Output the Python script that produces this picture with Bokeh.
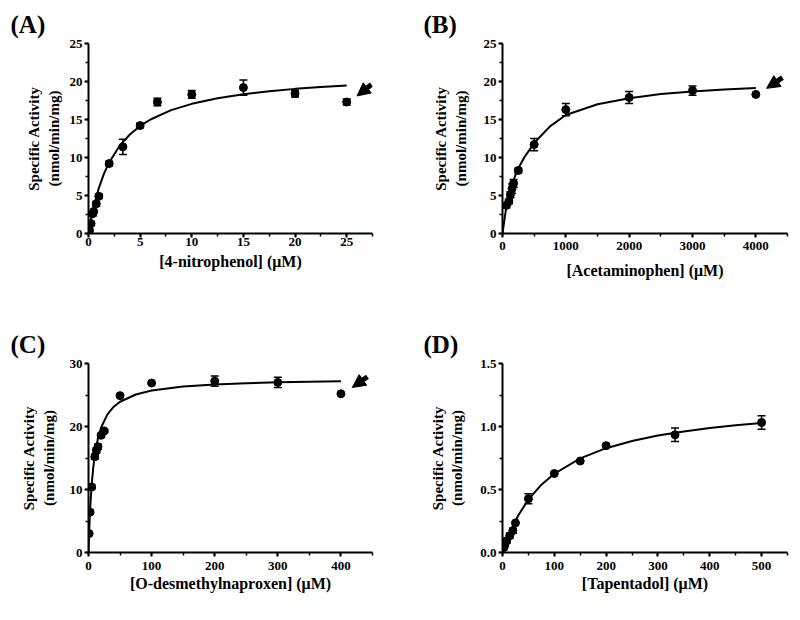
from bokeh.plotting import figure
from bokeh.layouts import column, row
from bokeh.models import (Range1d, FixedTicker, Whisker, TeeHead, ColumnDataSource,
                          Arrow, NormalHead, CustomJSTickFormatter)
from bokeh.embed import file_html
from bokeh.resources import INLINE

FONT = "Liberation Serif"
Y_TITLE = "Specific Activity\n(nmol/min/mg)"

# ---------------- Panel A: 4-nitrophenol ----------------
a_x = [0.1, 0.25, 0.4, 0.5, 0.75, 1.0, 2.0, 3.33, 5.0, 6.67, 10.0, 15.0, 20.0, 25.0]
a_y = [0.4, 1.3, 2.6, 2.9, 3.9, 4.9, 9.2, 11.4, 14.2, 17.3, 18.3, 19.2, 18.4, 17.3]
a_err = [0.0, 0.2, 0.3, 0.0, 0.3, 0.3, 0.3, 1.0, 0.3, 0.5, 0.5, 1.0, 0.45, 0.4]
a_fit_x = [0, 0.25, 0.5, 1, 1.5, 2, 3, 4, 5, 6, 8, 10, 12.5, 15, 17.5, 20, 22.5, 25]
a_fit_y = [0, 1.89, 3.47, 5.97, 7.87, 9.35, 11.52, 13.03, 14.15, 15.0, 16.23, 17.06,
           17.80, 18.32, 18.72, 19.03, 19.27, 19.48]
a_xticks = [0, 5, 10, 15, 20, 25]
a_yticks = [0, 5, 10, 15, 20, 25]

# ---------------- Panel B: Acetaminophen ----------------
b_x = [62.5, 100, 125, 150, 175, 250, 500, 1000, 2000, 3000, 4000]
b_y = [3.7, 4.2, 5.1, 5.9, 6.6, 8.3, 11.7, 16.3, 17.9, 18.8, 18.3]
b_err = [0.3, 0.3, 0.4, 0.6, 0.5, 0.3, 0.8, 0.8, 0.8, 0.6, 0.0]
b_fit_x = [0, 25, 50, 100, 150, 200, 250, 350, 500, 750, 1000, 1500, 2000, 2500, 3000, 3500, 4000]
b_fit_y = [0, 1.5, 2.9, 5.0, 6.5, 7.6, 8.6, 10.1, 11.9, 14.1, 15.6, 17.0, 17.8, 18.35,
           18.7, 18.95, 19.15]
b_xticks = [0, 1000, 2000, 3000, 4000]
b_yticks = [0, 5, 10, 15, 20, 25]

# ---------------- Panel C: O-desmethylnaproxen ----------------
c_x = [1, 2.5, 5, 10, 12.5, 15, 20, 25, 50, 100, 200, 300, 400]
c_y = [3.0, 6.4, 10.4, 15.2, 16.2, 16.8, 18.6, 19.3, 24.9, 26.9, 27.2, 27.0, 25.2]
c_err = [0.0, 0.3, 0.3, 0.4, 0.4, 0.4, 0.3, 0.3, 0.0, 0.0, 0.8, 0.8, 0.0]
c_fit_x = [0, 1, 2, 3, 5, 7.5, 10, 15, 20, 30, 40, 50, 75, 100, 150, 200, 250, 300, 350, 400]
c_fit_y = [0, 3.10, 5.58, 7.60, 10.71, 13.47, 15.45, 18.13, 19.85, 21.93, 23.14, 23.93,
           25.08, 25.70, 26.34, 26.68, 26.88, 27.02, 27.12, 27.20]
c_xticks = [0, 100, 200, 300, 400]
c_yticks = [0, 10, 20, 30]

# ---------------- Panel D: Tapentadol ----------------
d_x = [3, 5, 8, 14, 20, 25, 50, 100, 150, 200, 333, 500]
d_y = [0.04, 0.07, 0.093, 0.133, 0.173, 0.235, 0.427, 0.627, 0.726, 0.848, 0.934, 1.032]
d_err = [0.0, 0.02, 0.02, 0.02, 0.02, 0.0, 0.04, 0.0, 0.0, 0.0, 0.054, 0.053]
d_fit_x = [0, 5, 10, 20, 30, 50, 75, 100, 150, 200, 250, 300, 350, 400, 450, 500]
d_fit_y = [0, 0.061, 0.116, 0.211, 0.292, 0.420, 0.538, 0.625, 0.747, 0.828, 0.885,
           0.928, 0.961, 0.988, 1.009, 1.027]
d_xticks = [0, 100, 200, 300, 400, 500]
d_yticks = [0, 0.5, 1.0, 1.5]


def minor_of(ticks, step):
    out = []
    t = 0.0
    end = ticks[-1] + step * 2
    while t <= end + 1e-9:
        out.append(round(t, 6))
        t += step
    return out


def panel(cfg):
    p = figure(width=cfg["w"], height=cfg["h"],
               x_range=Range1d(0, cfg["xmax"]), y_range=Range1d(0, cfg["ymax"]),
               output_backend="svg", toolbar_location=None,
               min_border_left=cfg["bl"], min_border_right=cfg["br"],
               min_border_top=cfg["bt"], min_border_bottom=cfg["bb"])
    p.outline_line_color = None
    p.grid.visible = False
    p.background_fill_color = "white"
    p.border_fill_color = "white"

    p.xaxis.ticker = FixedTicker(ticks=cfg["xt"], minor_ticks=minor_of(cfg["xt"], cfg["xminor"]))
    p.yaxis.ticker = FixedTicker(ticks=cfg["yt"], minor_ticks=minor_of(cfg["yt"], cfg["yminor"]))
    if cfg.get("yfmt"):
        p.yaxis.formatter = CustomJSTickFormatter(code="return tick.toFixed(1);")

    for ax in (p.xaxis[0], p.yaxis[0]):
        ax.axis_line_width = 2
        ax.axis_line_color = "black"
        ax.major_tick_line_width = 2
        ax.major_tick_line_color = "black"
        ax.minor_tick_line_width = 1.5
        ax.minor_tick_line_color = "black"
        ax.major_tick_in = 0
        ax.major_tick_out = 4
        ax.minor_tick_in = 0
        ax.minor_tick_out = 3
        ax.major_label_text_font = FONT
        ax.major_label_text_font_style = "bold"
        ax.major_label_text_font_size = "13px"
        ax.major_label_text_color = "black"
        ax.axis_label_text_font = FONT
        ax.axis_label_text_font_style = "bold"
        ax.axis_label_text_color = "black"

    p.xaxis.axis_label_text_font_size = "16px"
    p.yaxis.axis_label_text_font_size = "15px"
    p.xaxis.axis_label = cfg["xlabel"]
    p.xaxis.major_label_standoff = cfg["xls"]
    p.xaxis.axis_label_standoff = cfg["xas"]
    p.yaxis.axis_label = Y_TITLE
    p.yaxis.major_label_standoff = 2
    p.yaxis.axis_label_standoff = cfg["yas"]

    # panel letter
    p.title.text = cfg["tag"]
    p.title.align = "left"
    p.title.offset = cfg["toff"]
    p.title.standoff = 12
    p.title.text_font = FONT
    p.title.text_font_style = "bold"
    p.title.text_font_size = "25px"
    p.title.text_color = "black"

    # fitted curve
    p.line(cfg["fx"], cfg["fy"], line_color="black", line_width=2)

    # error bars
    ex, lo, hi = [], [], []
    for x, y, e in zip(cfg["x"], cfg["y"], cfg["err"]):
        if e > 0:
            ex.append(x)
            lo.append(y - e)
            hi.append(y + e)
    src = ColumnDataSource(dict(x=ex, lower=lo, upper=hi))
    w = Whisker(source=src, base="x", lower="lower", upper="upper",
                line_color="black", line_width=1.5,
                upper_head=TeeHead(size=8, line_width=1.5, line_color="black"),
                lower_head=TeeHead(size=8, line_width=1.5, line_color="black"))
    p.add_layout(w)

    # data points
    p.scatter(cfg["x"], cfg["y"], marker="circle", size=8,
              fill_color="black", line_color="black")

    # arrow annotation
    if cfg.get("arrow"):
        xs, ys, xe, ye = cfg["arrow"]
        p.add_layout(Arrow(x_start=xs, y_start=ys, x_end=xe, y_end=ye,
                           line_width=5, line_color="black",
                           end=NormalHead(size=13, fill_color="black",
                                          line_color="black", line_width=1)))
    return p


pA = panel(dict(w=400, h=320, xmax=27.5, ymax=25, bl=88, br=28, bt=43, bb=87,
                xt=a_xticks, yt=a_yticks, xminor=2.5, yminor=2.5,
                xlabel="[4-nitrophenol] (\u03bcM)", xls=0, xas=4, yas=5,
                x=a_x, y=a_y, err=a_err, fx=a_fit_x, fy=a_fit_y,
                arrow=(27.4, 19.6, 26.0, 18.1), tag="(A)", toff=-78))
pB = panel(dict(w=392, h=320, xmax=4500, ymax=25, bl=102, br=5, bt=43, bb=87,
                xt=b_xticks, yt=b_yticks, xminor=500, yminor=2.5,
                xlabel="[Acetaminophen] (\u03bcM)", xls=4, xas=9, yas=12,
                x=b_x, y=b_y, err=b_err, fx=b_fit_x, fy=b_fit_y,
                arrow=(4420, 20.5, 4170, 19.1), tag="(B)", toff=-79))
pC = panel(dict(w=400, h=292, xmax=450, ymax=30, bl=88, br=28, bt=43, bb=60,
                xt=c_xticks, yt=c_yticks, xminor=50, yminor=5,
                xlabel="[O-desmethylnaproxen] (\u03bcM)", xls=5, xas=2, yas=10,
                x=c_x, y=c_y, err=c_err, fx=c_fit_x, fy=c_fit_y,
                arrow=(442, 27.9, 418, 26.2), tag="(C)", toff=-78))
pD = panel(dict(w=392, h=292, xmax=550, ymax=1.5, bl=102, br=5, bt=43, bb=60,
                xt=d_xticks, yt=d_yticks, xminor=50, yminor=0.25, yfmt=True,
                xlabel="[Tapentadol] (\u03bcM)", xls=5, xas=2, yas=12,
                x=d_x, y=d_y, err=d_err, fx=d_fit_x, fy=d_fit_y,
                arrow=None, tag="(D)", toff=-79))

layout = column(row(pA, pB), row(pC, pD))
open("out.html", "w").write(file_html(layout, INLINE))
